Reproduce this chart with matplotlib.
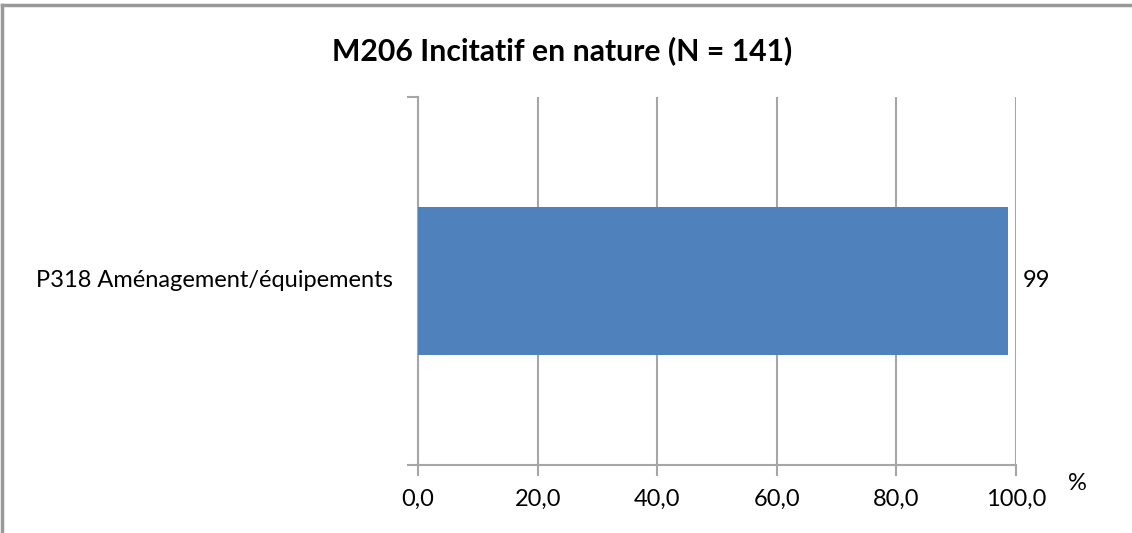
import matplotlib.pyplot as plt
from matplotlib.lines import Line2D

titre = "M206 Incitatif en nature (N = 141)"
categories = ["P318 Aménagement/équipements"]
valeurs = [98.6]
graduations = [0, 20, 40, 60, 80, 100]

gris = "#a6a6a6"
plt.rcParams["font.family"] = ["Lato", "DejaVu Sans"]

fig = plt.figure(figsize=(11.32, 5.33), dpi=100)
ax = fig.add_axes([0.3693, 0.1276, 0.5282, 0.6904])

ax.barh(range(len(categories)), valeurs, height=0.4, color="#4f81bd", zorder=3)
for i, v in enumerate(valeurs):
    ax.text(v + 2.6, i, f"{v:.0f}", va="center", ha="left", fontsize=17)

ax.set_xlim(0, 100)
ax.set_ylim(-0.5, len(categories) - 0.5)
ax.set_xticks(graduations)
ax.set_xticklabels([f"{g:.1f}".replace(".", ",") for g in graduations], fontsize=17)
ax.set_yticks([-0.5, 0.5])
ax.set_yticklabels([])
for i, c in enumerate(categories):
    ax.text(-4.2, i, c, ha="right", va="center", fontsize=17)

ax.grid(axis="x", color=gris, lw=1.5, zorder=0)
for s in ["top", "right"]:
    ax.spines[s].set_visible(False)
for s in ["left", "bottom"]:
    ax.spines[s].set_color(gris)
    ax.spines[s].set_linewidth(1.5)
ax.tick_params(axis="x", length=8, width=1.5, color=gris, pad=9)
ax.tick_params(axis="y", length=8, width=1.5, color=gris)

ax.text(1.103, -0.05, "%", transform=ax.transAxes, fontsize=17, ha="center", va="center")
fig.text(0.497, 0.905, titre, ha="center", va="center", fontsize=21.7, fontweight="bold")

# cadre du graphique
fig.add_artist(Line2D([0.002, 1], [0.991, 0.991], color="#999999", lw=2.5, transform=fig.transFigure))
fig.add_artist(Line2D([0.0022, 0.0022], [0, 0.991], color="#999999", lw=2.5, transform=fig.transFigure))

fig.savefig("out.png", dpi=100)
